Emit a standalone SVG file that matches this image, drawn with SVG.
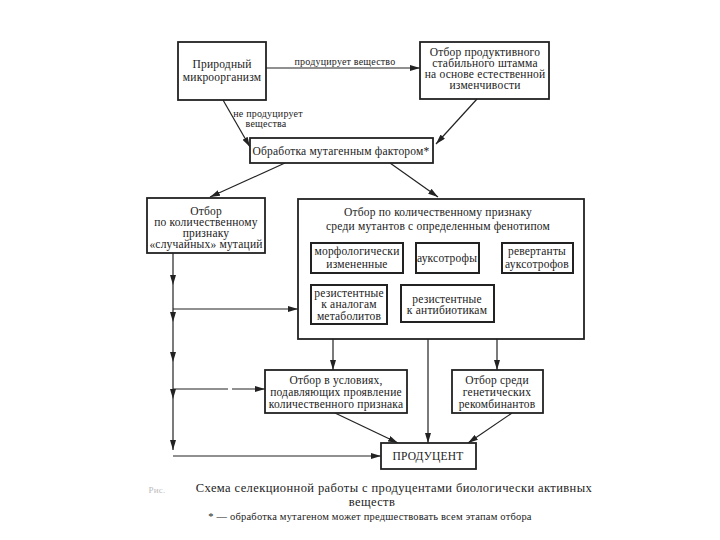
<svg xmlns="http://www.w3.org/2000/svg" width="720" height="540" viewBox="0 0 720 540">
<defs>
<marker id="ah" viewBox="0 0 10 6" refX="10" refY="3" markerWidth="10" markerHeight="6" markerUnits="userSpaceOnUse" orient="auto">
<path d="M0,0 L10,3 L0,6 z" fill="#222"/>
</marker>
</defs>
<style>
text{font-family:"Liberation Serif","DejaVu Serif",serif;fill:#222;text-anchor:middle;font-size:11.5px;letter-spacing:0.2px}
.box{fill:#fff;stroke:#222;stroke-width:1.8}
.sub{fill:#fff;stroke:#222;stroke-width:2}
.ln{stroke:#222;stroke-width:1.2;fill:none}
.lbl{font-size:10px}
.cap{font-size:12.5px;letter-spacing:0.4px}
.fn{font-size:10.5px}
</style>
<rect width="720" height="540" fill="#fff"/>
<g id="connectors">
<line class="ln" x1="266" y1="68" x2="420" y2="68" marker-end="url(#ah)"/>
<line class="ln" x1="223" y1="100" x2="250" y2="147" marker-end="url(#ah)"/>
<line class="ln" x1="477" y1="99" x2="436" y2="144" marker-end="url(#ah)"/>
<line class="ln" x1="285" y1="163" x2="210" y2="197" marker-end="url(#ah)"/>
<line class="ln" x1="390" y1="163" x2="438" y2="197" marker-end="url(#ah)"/>
<line class="ln" x1="173" y1="253" x2="173" y2="285" marker-end="url(#ah)"/>
<line class="ln" x1="173" y1="285" x2="173" y2="322" marker-end="url(#ah)"/>
<line class="ln" x1="173" y1="322" x2="173" y2="362" marker-end="url(#ah)"/>
<line class="ln" x1="173" y1="362" x2="173" y2="399" marker-end="url(#ah)"/>
<line class="ln" x1="173" y1="399" x2="173" y2="450" marker-end="url(#ah)"/>
<line class="ln" x1="173" y1="309" x2="298" y2="309" marker-end="url(#ah)"/>
<line class="ln" x1="173" y1="389" x2="265" y2="389" marker-end="url(#ah)" stroke-dasharray="55,4,100"/>
<line class="ln" x1="173" y1="456" x2="381" y2="456" marker-end="url(#ah)"/>
<line class="ln" x1="333" y1="339" x2="333" y2="370" marker-end="url(#ah)"/>
<line class="ln" x1="428" y1="339" x2="428" y2="443" marker-end="url(#ah)"/>
<line class="ln" x1="497" y1="339" x2="497" y2="370" marker-end="url(#ah)"/>
<line class="ln" x1="335" y1="413" x2="398" y2="443" marker-end="url(#ah)"/>
<line class="ln" x1="512" y1="413" x2="468" y2="443" marker-end="url(#ah)"/>
<text class="lbl" x="345" y="65">продуцирует вещество</text>
<text class="lbl" x="268" y="117">не продуцирует</text>
<text class="lbl" x="266" y="127">вещества</text>
</g>
<g id="n-natural">
<rect class="box" x="178" y="42" width="88" height="58"/>
<text x="222" y="68">Природный</text>
<text x="222" y="81">микроорганизм</text>
</g>
<g id="n-stable">
<rect class="box" x="420" y="42" width="129" height="57"/>
<text x="485" y="56">Отбор продуктивного</text>
<text x="485" y="67">стабильного штамма</text>
<text x="485" y="78">на основе естественной</text>
<text x="485" y="89">изменчивости</text>
</g>
<g id="n-mutagen">
<rect class="box" x="250" y="138" width="183" height="25"/>
<text x="341" y="155">Обработка  мутагенным фактором*</text>
</g>
<g id="n-left">
<rect class="box" x="147" y="198" width="118" height="55"/>
<text x="206" y="215">Отбор</text>
<text x="206" y="226">по количественному</text>
<text x="206" y="237">признаку</text>
<text x="206" y="248">«случайных» мутаций</text>
</g>
<g id="n-big">
<rect class="box" x="298" y="199" width="286" height="140"/>
<text x="438" y="216">Отбор по количественному признаку</text>
<text x="438" y="230">среди мутантов с определенным фенотипом</text>
</g>
<g id="n-morph">
<rect class="sub" x="311" y="243" width="92" height="30"/>
<text x="357" y="255">морфологически</text>
<text x="357" y="268">измененные</text>
</g>
<g id="n-aux">
<rect class="sub" x="416" y="243" width="63" height="30"/>
<text x="447" y="262">ауксотрофы</text>
</g>
<g id="n-rev">
<rect class="sub" x="502" y="243" width="71" height="30"/>
<text x="537" y="255">ревертанты</text>
<text x="537" y="268">ауксотрофов</text>
</g>
<g id="n-resmet">
<rect class="sub" x="311" y="285" width="76" height="39"/>
<text x="349" y="297">резистентные</text>
<text x="349" y="308">к аналогам</text>
<text x="349" y="320">метаболитов</text>
</g>
<g id="n-resab">
<rect class="sub" x="401" y="285" width="93" height="37"/>
<text x="447" y="303">резистентные</text>
<text x="447" y="314">к антибиотикам</text>
</g>
<g id="n-suppress">
<rect class="box" x="265" y="370" width="142" height="43"/>
<text x="336" y="384">Отбор в условиях,</text>
<text x="336" y="396">подавляющих проявление</text>
<text x="336" y="408">количественного признака</text>
</g>
<g id="n-recomb">
<rect class="box" x="452" y="370" width="91" height="43"/>
<text x="497" y="384">Отбор среди</text>
<text x="497" y="396">генетических</text>
<text x="497" y="408">рекомбинантов</text>
</g>
<g id="n-producer">
<rect class="box" x="381" y="443" width="95" height="26"/>
<text x="428" y="460">ПРОДУЦЕНТ</text>
</g>
<g id="caption">
<text x="157" y="493" style="fill:#bbb;font-size:9px">Рис.</text>
<text class="cap" x="394" y="492">Схема селекционной работы с продуцентами биологически активных</text>
<text class="cap" x="372" y="506">веществ</text>
<text class="fn" x="370" y="520">* — обработка мутагеном может предшествовать всем этапам отбора</text>
</g>
</svg>
